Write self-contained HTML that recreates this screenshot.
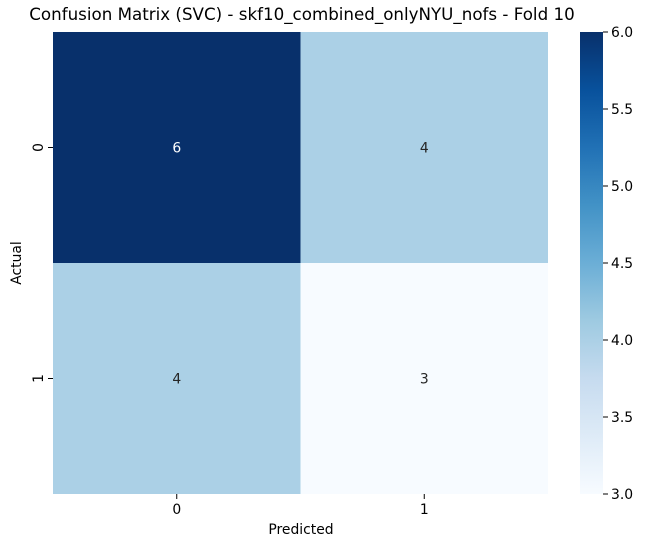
<!DOCTYPE html>
<html><head><style>
body{margin:0;background:#fff;font-family:"DejaVu Sans","Liberation Sans",sans-serif;}
text{font-family:"DejaVu Sans","Liberation Sans",sans-serif;}
</style></head><body>
<svg id="chart" width="645" height="547">
<defs>
<linearGradient id="blues" x1="0" y1="1" x2="0" y2="0">
<stop offset="0" stop-color="#f7fbff"/><stop offset="0.125" stop-color="#deebf7"/>
<stop offset="0.25" stop-color="#c6dbef"/><stop offset="0.375" stop-color="#9ecae1"/>
<stop offset="0.5" stop-color="#6baed6"/><stop offset="0.625" stop-color="#4292c6"/>
<stop offset="0.75" stop-color="#2171b5"/><stop offset="0.875" stop-color="#08519c"/>
<stop offset="1" stop-color="#08306b"/>
</linearGradient>
</defs>
<text x="302" y="20" font-size="16.7" text-anchor="middle">Confusion Matrix (SVC) - skf10_combined_onlyNYU_nofs - Fold 10</text>
<g id="cells"></g>
<text x="301" y="534" font-size="13.9" text-anchor="middle">Predicted</text>
<text x="21" y="263" font-size="13.9" text-anchor="middle" transform="rotate(-90 21 263)">Actual</text>
<rect x="580" y="32" width="23" height="462" fill="url(#blues)"/>
<g id="cbticks"></g>
</svg>
<script>
const labels = ["0","1"];
const matrix = [[6,4],[4,3]];
const cbTicks = [3.0,3.5,4.0,4.5,5.0,5.5,6.0];
const L=53,T=32,W=495,H=462,vmin=3,vmax=6;
const stops=[[247,251,255],[222,235,247],[198,219,239],[158,202,225],[107,174,214],[66,146,198],[33,113,181],[8,81,156],[8,48,107]];
function color(v){let t=(v-vmin)/(vmax-vmin)*8;let i=Math.min(7,Math.floor(t)),f=t-i;
const c=stops[i].map((a,k)=>Math.round(a+(stops[i+1][k]-a)*f));return `rgb(${c})`;}
const ns="http://www.w3.org/2000/svg";const g=document.getElementById('cells');
const n=labels.length,cw=W/n,ch=H/n;
function mk(t,a,p){const e=document.createElementNS(ns,t);for(const k in a)e.setAttribute(k,a[k]);p.appendChild(e);return e;}
matrix.forEach((row,r)=>row.forEach((v,c)=>{
const rc=mk('rect',{x:L+c*cw,y:T+r*ch,width:cw,height:ch,fill:color(v)},g);


const tx=mk('text',{x:L+(c+.5)*cw,y:T+(r+.5)*ch+5,'font-size':13.9,'text-anchor':'middle',fill:v>4.5?'#fff':'#262626'},g);
tx.textContent=v;


}));
labels.forEach((lb,i)=>{
const x=L+(i+.5)*cw;
mk('line',{x1:x,x2:x,y1:T+H,y2:T+H+5,stroke:'#000'},g);
const t=mk('text',{x:x,y:T+H+20,'font-size':13.9,'text-anchor':'middle'},g);t.textContent=lb;


const y=T+(i+.5)*ch;
mk('line',{x1:L-5,x2:L,y1:y,y2:y,stroke:'#000'},g);
const t2=mk('text',{x:L-10,y:y,'font-size':13.9,'text-anchor':'middle',transform:`rotate(-90 ${L-10} ${y})`},g);t2.textContent=lb;


});
const cb=document.getElementById('cbticks');
cbTicks.forEach(v=>{const y=T+H-(v-vmin)/(vmax-vmin)*H;
mk('line',{x1:603,x2:608,y1:y,y2:y,stroke:'#000'},cb);
const t=mk('text',{x:611,y:y+5,'font-size':13.9},cb);t.textContent=v.toFixed(1);

});
</script>
</body></html>
